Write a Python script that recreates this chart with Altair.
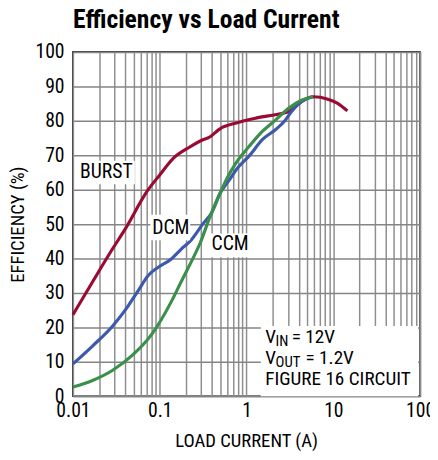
import altair as alt
import pandas as pd

FONT = "Liberation Sans Narrow, Roboto Condensed, DejaVu Sans Condensed, sans-serif"

# ---- data ----
burst_i = [0.01, 0.0168, 0.0284, 0.0396, 0.0726, 0.1, 0.146, 0.215, 0.319, 0.37, 0.494, 0.76, 1.28, 2.37, 3.07, 4.3, 5.83, 8.66, 11.2, 14.5]
burst_e = [23.7, 33.2, 42.7, 48.4, 59.8, 64.3, 69.3, 72.2, 74.6, 75.2, 77.7, 79.4, 80.8, 82.0, 82.7, 85.6, 87.0, 86.3, 85.1, 82.9]

dcm_i = [0.01, 0.0168, 0.0284, 0.0402, 0.0568, 0.0737, 0.0961, 0.136, 0.176, 0.225, 0.319, 0.395, 0.494, 0.64, 0.76, 1.08, 1.53, 2.17, 2.78, 3.3, 4.3, 5.83]
dcm_e = [9.4, 14.6, 20.3, 25.1, 30.8, 35.1, 37.5, 39.9, 42.7, 45.1, 50.3, 53.2, 58.9, 63.0, 65.8, 69.9, 74.6, 77.5, 80.1, 82.7, 85.6, 87.0]

ccm_i = [0.01, 0.0168, 0.0284, 0.0478, 0.0804, 0.136, 0.176, 0.229, 0.293, 0.38, 0.494, 0.6, 0.76, 1.08, 1.53, 2.17, 3.07, 4.3, 5.83]
ccm_e = [2.7, 4.6, 7.5, 11.8, 17.9, 27.5, 33.2, 38.9, 44.6, 52.2, 58.9, 63.5, 67.9, 72.7, 77.0, 80.3, 83.7, 86.0, 87.0]

series_names = ["BURST", "DCM", "CCM"]
series_colors = ["#9a0a32", "#3c59ab", "#3a8f4b"]

x_ticks = [m * 10.0 ** k for k in range(-2, 2) for m in range(1, 10)] + [100]
x_ticks = [float(f"{v:.4g}") for v in x_ticks]
y_ticks = [0, 10, 20, 30, 40, 50, 60, 70, 80, 90, 100]

# labels: (text, x, y) and white boxes behind them (x, x2, y, y2)
label_text = ["BURST", "DCM", "CCM"]
label_x = [0.0243, 0.134, 0.647]
label_y = [65.0, 49.0, 44.1]
box_x = [0.0117, 0.078, 0.37, 1.46]
box_x2 = [0.0517, 0.224, 1.15, 94.5]
box_y = [68.4, 52.7, 47.3, 20.4]
box_y2 = [61.6, 45.3, 40.4, 0.0]

note_x = 1.64
note_y = [17.3, 11.0, 5.1]

rows = []
for name, xs, ys in [("BURST", burst_i, burst_e), ("DCM", dcm_i, dcm_e), ("CCM", ccm_i, ccm_e)]:
    for a, b in zip(xs, ys):
        rows.append({"series": name, "I": a, "E": b})
df = pd.DataFrame(rows)

xscale = alt.Scale(type="log", domain=[0.01, 100], nice=False)
yscale = alt.Scale(domain=[0, 100], nice=False)

decade_expr = ("datum.value == 0.01 ? '0.01' : datum.value == 0.1 ? '0.1' : datum.value == 1 ? '1' : "
               "datum.value == 10 ? '10' : datum.value == 100 ? '100' : ''")

xaxis = alt.Axis(values=x_ticks, labelExpr=decade_expr, grid=True, gridColor="#8e8e8e", gridWidth=1.5,
                 ticks=False, domain=False, labelFontSize=20, labelFont=FONT, labelColor="black",
                 labelPadding=5, labelFlush=False, labelOverlap=False,
                 title="LOAD CURRENT (A)", titleFont=FONT, titleFontSize=19, titleFontWeight="normal",
                 titleColor="black", titleX=176, titleY=45, titleBaseline="middle", titleAlign="center")
yaxis = alt.Axis(values=y_ticks, grid=True, gridColor="#858585", gridWidth=1.5, ticks=False, domain=False,
                 labelFontSize=20, labelFont=FONT, labelColor="black", labelPadding=9, labelOverlap=False,
                 labelFlush=False,
                 title="EFFICIENCY (%)", titleFont=FONT, titleFontSize=19, titleFontWeight="normal",
                 titleColor="black", titleX=-56, titleY=175, titleBaseline="middle", titleAlign="center",
                 titleAngle=-90)


def X(field):
    return alt.X(field, scale=xscale, axis=xaxis)


def Y(field):
    return alt.Y(field, scale=yscale, axis=yaxis)


lines = alt.Chart(df).mark_line(strokeWidth=3.2, interpolate="monotone").encode(
    x=X("I:Q"), y=Y("E:Q"),
    color=alt.Color("series:N", scale=alt.Scale(domain=series_names, range=series_colors), legend=None),
    detail="series:N",
)

boxes = alt.Chart(pd.DataFrame({"x": box_x, "x2": box_x2, "y": box_y, "y2": box_y2})).mark_rect(
    color="white").encode(x=X("x:Q"), x2="x2:Q", y=Y("y:Q"), y2="y2:Q")

labels = alt.Chart(pd.DataFrame({"t": label_text, "x": label_x, "y": label_y})).mark_text(
    font=FONT, fontSize=20, color="black", align="center", baseline="middle").encode(
    x=X("x:Q"), y=Y("y:Q"), text="t:N")


def note(text, y, dx, dy=0, size=19.5):
    return alt.Chart(pd.DataFrame({"t": [text], "x": [note_x], "y": [y]})).mark_text(
        font=FONT, fontSize=size, color="black", align="left", baseline="middle", dx=dx, dy=dy).encode(
        x=X("x:Q"), y=Y("y:Q"), text="t:N")


notes = [
    note("V", note_y[0], 0), note("IN", note_y[0], 10.5, 4, 15), note("= 12V", note_y[0], 27),
    note("V", note_y[1], 0), note("OUT", note_y[1], 10.5, 4, 15), note("= 1.2V", note_y[1], 41),
    note("FIGURE 16 CIRCUIT", note_y[2], 0),
]

chart = alt.layer(lines, boxes, labels, *notes).properties(
    width=353, height=350,
    autosize=alt.AutoSizeParams(type="none"),
    padding={"left": 66, "top": 41, "right": 10, "bottom": 60},
    title=alt.TitleParams("Efficiency vs Load Current", anchor="start", frame="group", font=FONT,
                          fontSize=26, fontWeight="bold", color="black", offset=9),
).configure_view(stroke="black", strokeWidth=1.5)

chart.save("out.html", embed_options={"renderer": "svg", "actions": False})
